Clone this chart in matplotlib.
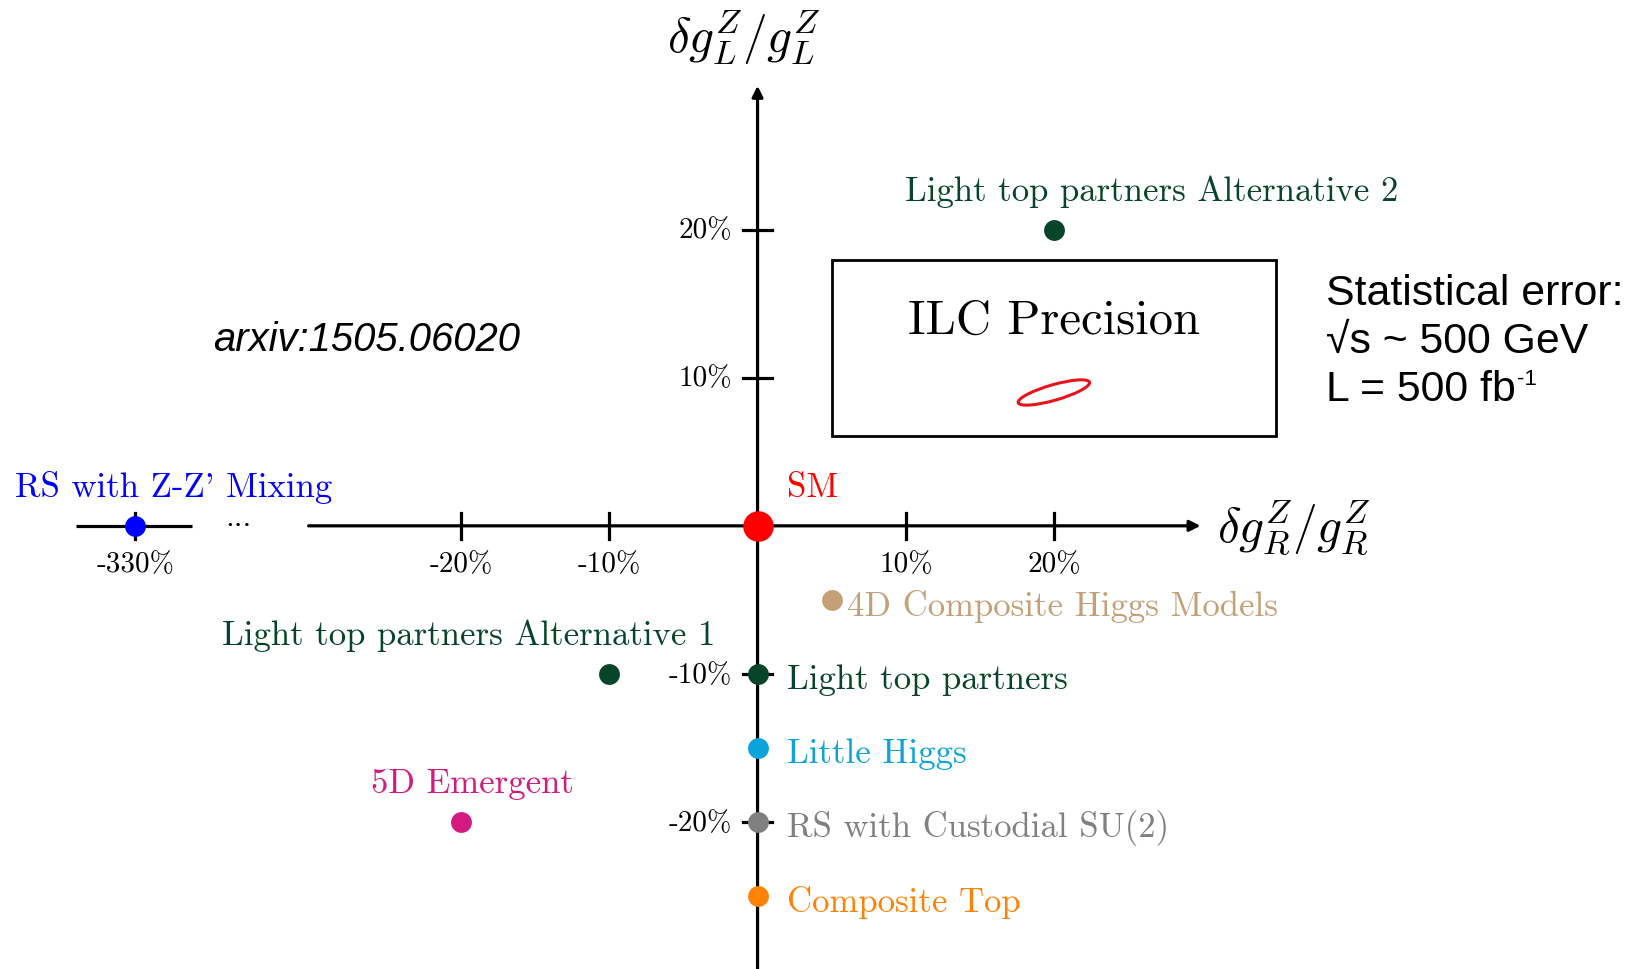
import matplotlib
matplotlib.use("Agg")
import matplotlib.pyplot as plt
from matplotlib.patches import Rectangle, Ellipse

plt.rcParams["mathtext.fontset"] = "cm"

# model predictions: (dgR/gR, dgL/gL) in percent
MODELS = ["SM", "Light top partners Alternative 2", "Light top partners Alternative 1",
          "Light top partners", "Little Higgs", "RS with Custodial SU(2)", "Composite Top",
          "5D Emergent", "4D Composite Higgs Models", "RS with Z-Z' Mixing"]
DGR = [0, 20, -10, 0, 0, 0, 0, -20, 5, -330]
DGL = [0, 20, -10, -10, -15, -20, -25, -20, -5, 0]
COLORS = ["#ff0000", "#06452a", "#06452a", "#06452a", "#0ba3dc", "#808080", "#ff8205",
          "#d6197f", "#c4a077", "#0000ff"]

XTICKS = [-20, -10, 10, 20]
YTICKS = [-20, -10, 10, 20]
BREAK_AT = -330      # the far-off point sits on a broken axis segment
BREAK_POS = -42.0

# ILC statistical ellipse (centre, axes, tilt) in percent
ILC_CENTER = (20, 9.0)
ILC_AXES = (5.0, 1.05)
ILC_ANGLE = 16

SERIF = ["cmr10", "DejaVu Serif"]
SANS = ["Liberation Sans", "DejaVu Sans"]


def xpos(v):
    return BREAK_POS if v == BREAK_AT else v


fig = plt.figure(figsize=(16.36, 9.69), dpi=100)
ax = fig.add_axes([0, 0, 1, 1])
ax.set_xlim(-51.13, 59.29)
ax.set_ylim(-29.91, 35.49)
ax.axis("off")

lw = 2.3
arrow = dict(arrowstyle="-|>", lw=lw, color="k", mutation_scale=16, shrinkA=0, shrinkB=0)
# x axis (with break), y axis
ax.annotate("", xy=(29.9, 0), xytext=(-30.3, 0), arrowprops=arrow)
ax.plot([-46.0, -38.2], [0, 0], color="k", lw=lw, solid_capstyle="butt")
ax.text(-35.0, 0.0, "...", ha="center", va="baseline", fontsize=23, family=SERIF)
ax.annotate("", xy=(0, 29.7), xytext=(0, -30.5), arrowprops=arrow)

for t in XTICKS + [BREAK_AT]:
    x = xpos(t)
    ax.plot([x, x], [-0.9, 0.9], color="k", lw=lw)
    ax.text(x, -2.65, f"{t}%", ha="center", va="center", fontsize=21, family=SERIF)
for t in YTICKS:
    ax.plot([-1.0, 1.0], [t, t], color="k", lw=lw)
    ax.text(-1.75, t - 0.1, f"{t}%", ha="right", va="center", fontsize=21, family=SERIF)

ax.text(-0.9, 33.0, r"$\delta g_L^Z/g_L^Z$", ha="center", va="center", fontsize=35.5)
ax.text(36.2, -0.15, r"$\delta g_R^Z/g_R^Z$", ha="center", va="center", fontsize=35.5)

# points
for name, gr, gl, c in zip(MODELS, DGR, DGL, COLORS):
    ms = 22 if name == "SM" else 15
    ax.plot(xpos(gr), gl, "o", ms=ms, color=c, mec="none", zorder=5)

# labels: (dx, dy, ha) relative to the point
LABEL_POS = {
    "SM": (2.0, 2.55, "left"),
    "Light top partners Alternative 2": (6.6, 2.55, "center"),
    "Light top partners Alternative 1": (-9.5, 2.6, "center"),
    "Light top partners": (2.0, -0.4, "left"),
    "Little Higgs": (2.0, -0.4, "left"),
    "RS with Custodial SU(2)": (2.0, -0.4, "left"),
    "Composite Top": (2.0, -0.4, "left"),
    "5D Emergent": (0.75, 2.55, "center"),
    "4D Composite Higgs Models": (1.05, -0.45, "left"),
    "RS with Z-Z' Mixing": (2.6, 2.6, "center"),
}
for name, gr, gl, c in zip(MODELS, DGR, DGL, COLORS):
    dx, dy, ha = LABEL_POS[name]
    ax.text(xpos(gr) + dx, gl + dy, name, ha=ha, va="center", fontsize=25,
            color=c, family=SERIF)

# ILC precision box
ax.add_patch(Rectangle((5.0, 6.06), 30.0, 11.9, fill=False, lw=2.0, ec="k"))
ax.text(20, 13.8, "ILC Precision", ha="center", va="center", fontsize=35, family=SERIF)
ax.add_patch(Ellipse(ILC_CENTER, ILC_AXES[0], ILC_AXES[1], angle=ILC_ANGLE,
                     fill=False, ec="#e8141b", lw=2.2))

# annotations
ax.text(-26.4, 12.55, "arxiv:1505.06020", ha="center", va="center", fontsize=28.8,
        style="italic", family=SANS)
ax.text(38.4, 15.65, "Statistical error:", ha="left", va="center", fontsize=30.8, family=SANS)
ax.text(38.4, 12.4, "\u221as ~ 500 GeV", ha="left", va="center", fontsize=30.8, family=SANS)
lum = ax.text(38.4, 9.17, "L = 500 fb", ha="left", va="center", fontsize=30.8, family=SANS)
ax.annotate("-1", xy=(1, 1), xycoords=lum, xytext=(0.5, 1), textcoords="offset points",
            ha="left", va="top", fontsize=16, family=SANS)

fig.savefig("out.png", dpi=100)
